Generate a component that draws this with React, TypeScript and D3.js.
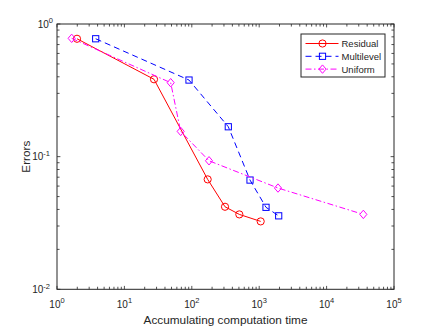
import React from "react";
import * as d3 from "d3";

const W = 436;
const H = 327;

const residualTime = [1.98, 27.5, 172, 311, 507, 1052];
const residualErr = [0.774, 0.383, 0.0674, 0.0419, 0.0367, 0.0325];

const multilevelTime = [3.75, 90.9, 348, 731, 1262, 1946];
const multilevelErr = [0.774, 0.378, 0.168, 0.0666, 0.0415, 0.0358];

const uniformTime = [1.65, 48.6, 68.4, 180, 1901, 35070];
const uniformErr = [0.78, 0.361, 0.155, 0.0931, 0.058, 0.0367];

const xMajor = [0, 1, 2, 3, 4, 5];
const yMajor = [0, -1, -2];

const seriesNames = ["Residual", "Multilevel", "Uniform"];
const xLabel = "Accumulating computation time";
const yLabel = "Errors";

const FONT = "'Liberation Sans', Arial, Helvetica, sans-serif";
const AX = "#262626";

type Marker = "circle" | "square" | "diamond";

function markerEl(kind: Marker, cx: number, cy: number, color: string, key?: any) {
  if (kind === "circle") {
    return <circle key={key} cx={cx} cy={cy} r={3.6} fill="none" stroke={color} strokeWidth={1} />;
  }
  if (kind === "square") {
    const s = 3.1;
    return <rect key={key} x={cx - s} y={cy - s} width={2 * s} height={2 * s} fill="none" stroke={color} strokeWidth={1} />;
  }
  const d = 4.2;
  return (
    <path key={key} d={`M${cx},${cy - d}L${cx + d * 0.85},${cy}L${cx},${cy + d}L${cx - d * 0.85},${cy}Z`} fill="none" stroke={color} strokeWidth={1} />
  );
}

export default function App() {
  const left = 57, right = 394, top = 24, bottom = 289.3;
  const x = d3.scaleLog().domain([1, 1e5]).range([left, right]);
  const y = d3.scaleLog().domain([0.01, 1]).range([bottom, top]);

  const series = [
    { name: seriesNames[0], t: residualTime, e: residualErr, color: "#ff0000", dash: undefined, marker: "circle" as Marker },
    { name: seriesNames[1], t: multilevelTime, e: multilevelErr, color: "#0000ff", dash: "6,4", marker: "square" as Marker },
    { name: seriesNames[2], t: uniformTime, e: uniformErr, color: "#ff00ff", dash: "6,2.5,1.5,2.5", marker: "diamond" as Marker },
  ];

  const line = d3.line<[number, number]>().x((d) => x(d[0])).y((d) => y(d[1]));

  const xMinor: number[] = [];
  for (let p = 0; p < 5; p++) for (let k = 2; k <= 9; k++) xMinor.push(k * Math.pow(10, p));
  const yMinor: number[] = [];
  for (let p = -2; p < 0; p++) for (let k = 2; k <= 9; k++) yMinor.push(k * Math.pow(10, p));

  const tl = 3.4;

  const legX = 301, legY = 34, legW = 84, legH = 43;

  return (
    <svg width={W} height={H} style={{ position: "absolute", left: 0, top: 0, background: "#fff" }} fontFamily={FONT}>
      <rect x={0} y={0} width={W} height={H} fill="#fff" />
      {/* ticks */}
      <g stroke={AX} strokeWidth={0.8}>
        {xMajor.map((p) => {
          const xx = x(Math.pow(10, p));
          return (
            <g key={"xm" + p}>
              <line x1={xx} x2={xx} y1={bottom} y2={bottom - tl} />
              <line x1={xx} x2={xx} y1={top} y2={top + tl} />
            </g>
          );
        })}
        {xMinor.map((v, i) => (
          <g key={"xn" + i}>
            <line x1={x(v)} x2={x(v)} y1={bottom} y2={bottom - tl * 0.75} />
            <line x1={x(v)} x2={x(v)} y1={top} y2={top + tl * 0.75} />
          </g>
        ))}
        {yMajor.map((p) => {
          const yy = y(Math.pow(10, p));
          return (
            <g key={"ym" + p}>
              <line x1={left} x2={left + tl} y1={yy} y2={yy} />
              <line x1={right} x2={right - tl} y1={yy} y2={yy} />
            </g>
          );
        })}
        {yMinor.map((v, i) => (
          <g key={"yn" + i}>
            <line x1={left} x2={left + tl * 0.75} y1={y(v)} y2={y(v)} />
            <line x1={right} x2={right - tl * 0.75} y1={y(v)} y2={y(v)} />
          </g>
        ))}
      </g>
      <rect x={left} y={top} width={right - left} height={bottom - top} fill="none" stroke={AX} strokeWidth={1} />

      {/* tick labels */}
      <g fill={AX} fontSize={10}>
        {xMajor.map((p) => (
          <text key={"xl" + p} x={x(Math.pow(10, p))} y={307.5} textAnchor="middle">
            10<tspan dy={-4.5} fontSize={7.5}>{p}</tspan>
          </text>
        ))}
        {yMajor.map((p) => (
          <text key={"yl" + p} x={p < 0 ? 50 : 53} y={y(Math.pow(10, p)) + 3.8} textAnchor="end">
            10<tspan dy={-4.5} fontSize={7.5}>{p}</tspan>
          </text>
        ))}
      </g>
      <text x={(left + right) / 2} y={324} textAnchor="middle" fontSize={11.8} fill={AX}>{xLabel}</text>
      <text transform={`translate(30,${(top + bottom) / 2}) rotate(-90)`} textAnchor="middle" fontSize={11.8} fill={AX}>{yLabel}</text>

      {/* series */}
      {series.map((s) => {
        const pts = s.t.map((t, i) => [t, s.e[i]] as [number, number]);
        return (
          <g key={s.name}>
            <path d={line(pts) || ""} fill="none" stroke={s.color} strokeWidth={1} strokeDasharray={s.dash} />
            {pts.map((p, i) => markerEl(s.marker, x(p[0]), y(p[1]), s.color, i))}
          </g>
        );
      })}

      {/* legend */}
      <rect x={legX} y={legY} width={legW} height={legH} fill="#fff" stroke={AX} strokeWidth={1} />
      {series.map((s, i) => {
        const yy = 43.5 + i * 12.8;
        return (
          <g key={"lg" + s.name}>
            <line x1={305.5} x2={338.5} y1={yy} y2={yy} stroke={s.color} strokeWidth={1} strokeDasharray={s.dash} />
            {markerEl(s.marker, 322.5, yy, s.color)}
            <text x={341.5} y={yy + 3.4} fontSize={9.5} fill={AX}>{s.name}</text>
          </g>
        );
      })}
    </svg>
  );
}
